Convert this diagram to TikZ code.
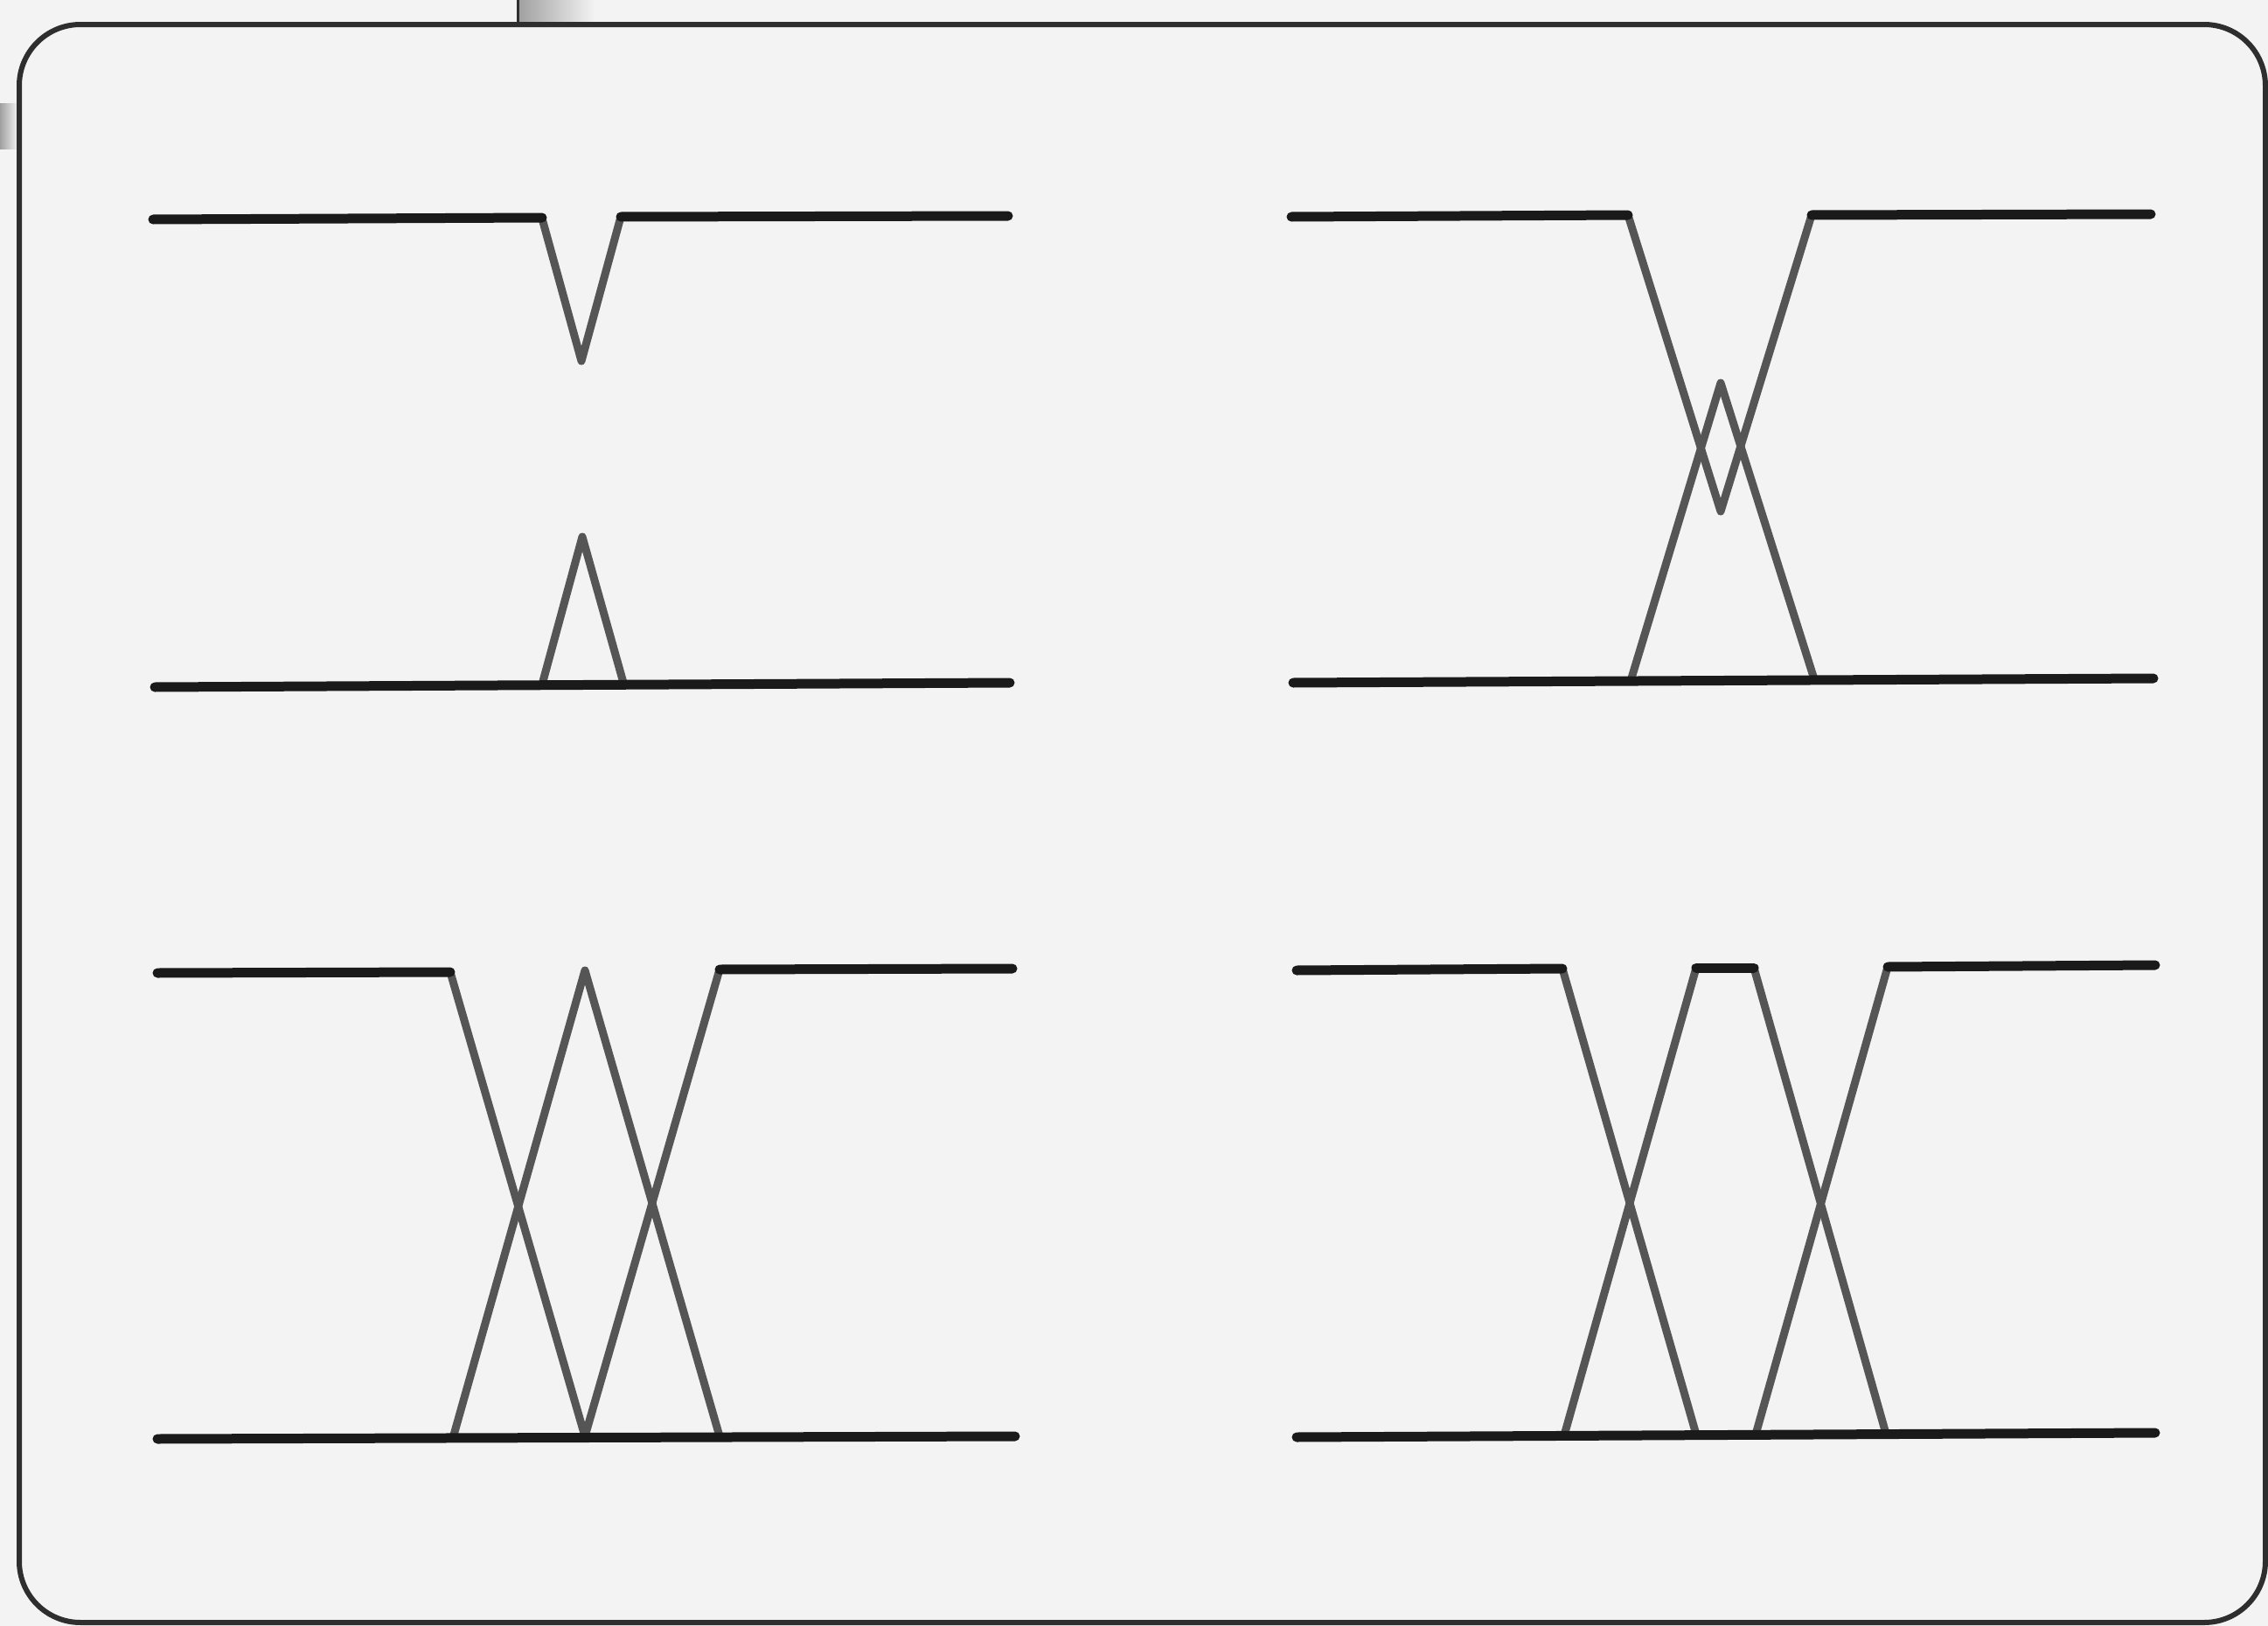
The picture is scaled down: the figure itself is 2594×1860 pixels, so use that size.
\documentclass[tikz,border=0pt]{standalone}
\usepackage{tikz}
\definecolor{paper}{HTML}{F3F3F3}
\definecolor{ink}{HTML}{1A1A1A}
\definecolor{trace}{HTML}{555555}
\definecolor{frameink}{HTML}{2E2E2E}
\tikzset{
    every picture/.style={line cap=round,line join=round},
    rail/.style={draw=ink,line width=1.1mm},
    ramp/.style={draw=trace,line width=0.9mm},
    card/.style={draw=frameink,line width=0.6mm,rounded corners=7mm},
    pageedge/.style={left color=gray!75,right color=paper,draw=none}
}

\begin{document}
\begin{tikzpicture}[x=0.1mm,y=-0.1mm]
  \useasboundingbox (0,0) rectangle (2594,1860);
  \fill[paper] (0,0) rectangle (2594,1860);
  \shade[pageedge] (592,0) rectangle (680,28);
  \draw[frameink,line width=0.3mm] (592,0) -- (592,28);
  \shade[pageedge] (0,118) rectangle (20,170);
  \draw[card] (22,28) rectangle (2591,1856);
  % short dip and short pulse
  \draw[ramp] (620,250) -- (665,413) -- (710,248);
  \draw[ramp] (620,783) -- (666,614) -- (713,781);
  \draw[rail] (175,251) -- (620,249);
  \draw[rail] (710,248) -- (1153,247);
  \draw[rail] (177,786) -- (1155,781);
  % dip and pulse past the middle
  \draw[ramp] (1862,246) -- (1968,585) -- (2072,246);
  \draw[ramp] (1865,779) -- (1968,438) -- (2075,777);
  \draw[rail] (1477,248) -- (1862,246);
  \draw[rail] (2072,246) -- (2460,245);
  \draw[rail] (1479,781) -- (2463,776);
  % full swing, one bit
  \draw[ramp] (515,1112) -- (669,1643) -- (823,1109);
  \draw[ramp] (518,1645) -- (669,1110) -- (823,1643);
  \draw[rail] (180,1113) -- (515,1112);
  \draw[rail] (823,1109) -- (1158,1108);
  \draw[rail] (180,1646) -- (1161,1643);
  % full swing with a flat part
  \draw[ramp] (1787,1108) -- (1940,1641) -- (2008,1641) -- (2159,1106);
  \draw[ramp] (1789,1642) -- (1940,1107) -- (2006,1107) -- (2157,1640);
  \draw[rail] (1940,1107) -- (2006,1107);
  \draw[rail] (1483,1110) -- (1787,1108);
  \draw[rail] (2159,1106) -- (2465,1104);
  \draw[rail] (1483,1644) -- (2465,1639);
\end{tikzpicture}
\end{document}
